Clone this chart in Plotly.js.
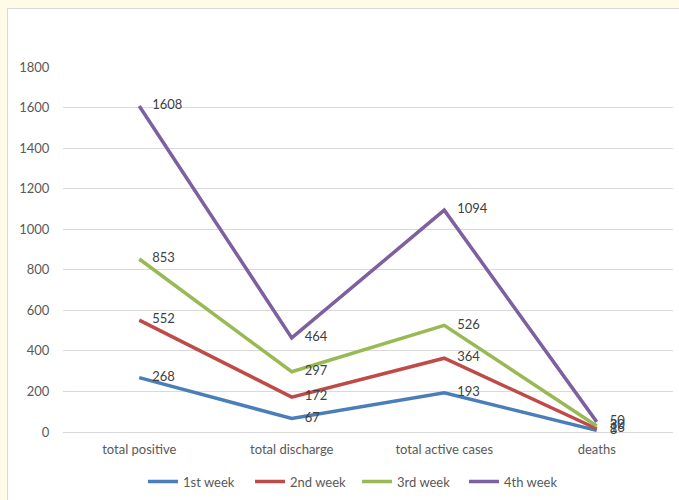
<!DOCTYPE html>
<html>
<head>
<meta charset="utf-8">
<script src="https://cdn.plot.ly/plotly-3.0.1.min.js"></script>
<style>
  html, body { margin: 0; padding: 0; background: #FFFBE6; }
  #frame {
    position: absolute; left: 7px; top: 8px; width: 672px; height: 492px;
    background: #ffffff; border-top: 1px solid #d9d9d9; border-left: 1px solid #d9d9d9;
    box-sizing: border-box;
  }
  #chart { position: absolute; left: 0; top: 0; width: 679px; height: 500px; }
</style>
</head>
<body>
<div id="frame"></div>
<div id="chart"></div>
<script>
// Weekly case summary
const categories = ["total positive", "total discharge", "total active cases", "deaths"];
const week1 = [268, 67, 193, 8];
const week2 = [552, 172, 364, 16];
const week3 = [853, 297, 526, 30];
const week4 = [1608, 464, 1094, 50];
const seriesNames = ["1st week", "2nd week", "3rd week", "4th week"];
const yTicks = [0, 200, 400, 600, 800, 1000, 1200, 1400, 1600, 1800];

const colors = ["#4A7EBB", "#BE4B48", "#98B954", "#7D60A0"];
const values = [week1, week2, week3, week4];
const fontFamily = "Lato, 'Open Sans', sans-serif";

const traces = values.map((v, i) => ({
  type: "scatter",
  mode: "lines+text",
  name: seriesNames[i],
  x: categories,
  y: v,
  // value labels sit a little to the right of each point
  text: v.map(n => "\u2002\u2002" + n),
  textposition: "middle right",
  textfont: { family: fontFamily, size: 13, color: "#404040" },
  cliponaxis: false,
  line: { color: colors[i], width: 3.5 }
}));

const layout = {
  width: 679,
  height: 500,
  paper_bgcolor: "rgba(0,0,0,0)",
  plot_bgcolor: "rgba(0,0,0,0)",
  margin: { l: 63, r: 6, t: 67, b: 68, autoexpand: false },
  showlegend: true,
  legend: {
    orientation: "h",
    x: 0.482, xanchor: "center",
    yref: "container",
    y: 0.037, yanchor: "middle",
    font: { family: fontFamily, size: 13, color: "#595959" },
    itemwidth: 30,
    entrywidth: 62,
    entrywidthmode: "pixels",
    traceorder: "normal"
  },
  xaxis: {
    type: "category",
    range: [-0.5, 3.5],
    showgrid: false,
    zeroline: false,
    showline: false,
    ticks: "outside",
    ticklen: 5,
    tickcolor: "rgba(0,0,0,0)",
    tickfont: { family: fontFamily, size: 13, color: "#595959" }
  },
  yaxis: {
    range: [0, 1800],
    tickvals: yTicks,
    ticktext: yTicks.map(String),
    showgrid: true,
    gridcolor: "#d9d9d9",
    gridwidth: 1,
    zeroline: true,
    zerolinecolor: "#d9d9d9",
    zerolinewidth: 1,
    showline: false,
    ticks: "outside",
    ticklen: 10,
    tickcolor: "rgba(0,0,0,0)",
    tickfont: { family: fontFamily, size: 13, color: "#595959" }
  },
  font: { family: fontFamily }
};

Plotly.newPlot("chart", traces, layout, { displayModeBar: false, staticPlot: true });
</script>
</body>
</html>
